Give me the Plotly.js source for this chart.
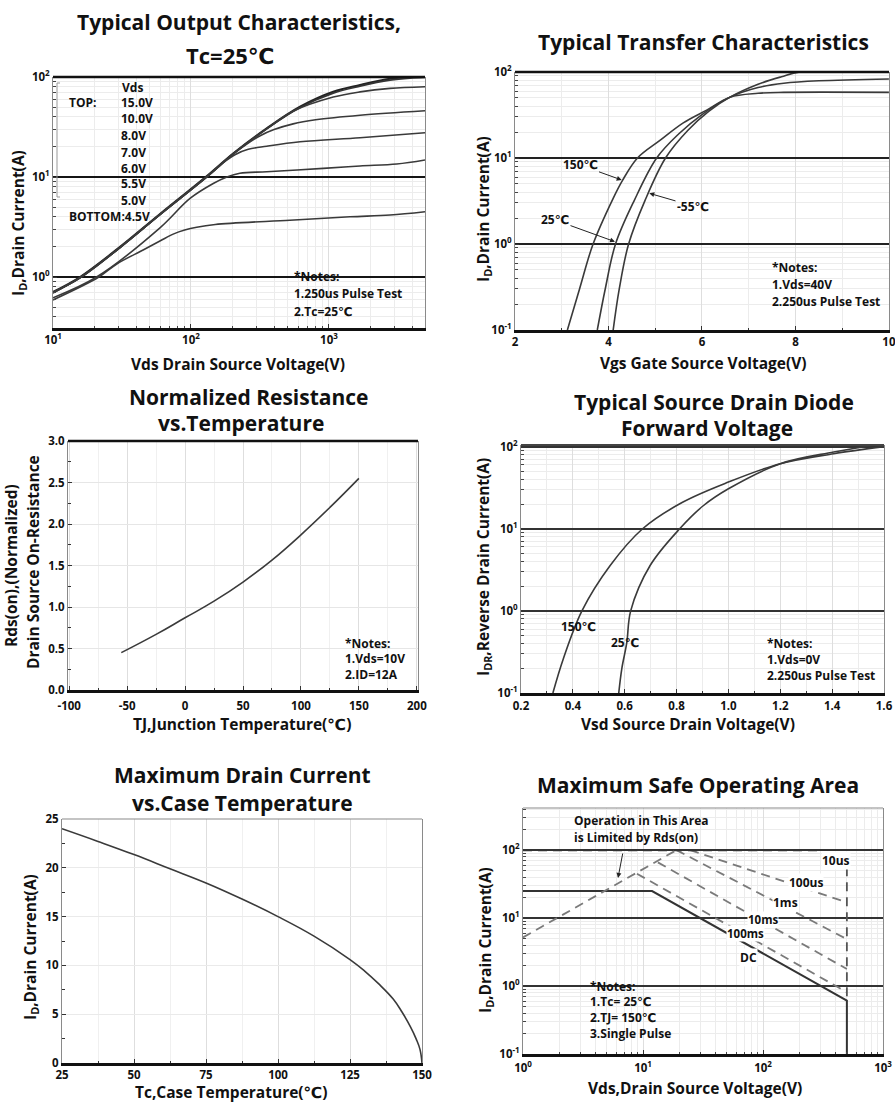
<!DOCTYPE html>
<html><head><meta charset="utf-8">
<script src="https://cdn.plot.ly/plotly-3.0.1.min.js"></script>
<style>html,body{margin:0;padding:0;background:#fff}#chart{width:895px;height:1102px}</style>
</head><body><div id="chart"></div>
<script>
// ===== DATA =====
// 1) Typical Output Characteristics (Vds [V], Id [A]) per gate voltage
const vds15 = [10, 15.7, 30.6, 59.6, 129, 203, 354, 617, 1074, 1679, 2767, 3864, 4966];
const id15  = [0.71, 1.0, 2.0, 4.27, 10.1, 17.3, 30.7, 50.5, 71.3, 83.2, 96, 100, 100];
const vds10 = [10, 15.7, 30.6, 59.6, 129, 203, 354, 617, 1074, 1679, 2767, 3864, 4966];
const id10  = [0.69, 0.99, 1.98, 4.22, 10.0, 17.1, 30.3, 49.5, 69, 81, 93, 97.5, 99];
const vds8  = [10, 15.7, 30.6, 59.6, 129, 203, 354, 550, 1074, 1679, 2767, 4966];
const id8   = [0.70, 0.98, 1.97, 4.2, 9.9, 17.0, 30.3, 45.5, 63, 71, 77, 80];
const vds7  = [10, 15.7, 30.6, 59.6, 129, 203, 260, 320, 400, 550, 800, 1679, 4966];
const id7   = [0.70, 0.98, 1.97, 4.2, 9.9, 17.0, 21.8, 26, 29.8, 34, 37.3, 41.5, 46];
const vds6  = [10, 15.7, 30.6, 59.6, 129, 170, 210, 260, 354, 617, 1679, 4966];
const id6   = [0.70, 0.98, 1.97, 4.2, 9.9, 13.8, 16.8, 18.9, 20.3, 22.5, 24.7, 27.7];
const vds55 = [10, 20.7, 59.6, 98.4, 145, 182, 226, 354, 909, 1679, 3100, 4966];
const id55  = [0.62, 1.0, 3.1, 6.1, 8.6, 10, 10.9, 11.3, 12.2, 12.9, 13.5, 14.8];
const vds45 = [10, 21.5, 29, 45, 60, 75, 90, 110, 150, 521, 1420, 2767, 4966];
const id45  = [0.59, 1.0, 1.35, 1.86, 2.3, 2.7, 2.95, 3.15, 3.35, 3.7, 4.0, 4.17, 4.5];

// 2) Typical Transfer Characteristics (Vgs [V], Id [A])
const vgs150 = [3.12, 3.38, 3.67, 4.1, 4.3, 4.62, 5.1, 5.6, 6.1, 6.6, 7.2, 7.75, 10];
const idT150 = [0.1, 0.3, 1.0, 3.4, 5.5, 10, 16, 25.6, 36, 51, 56.5, 58, 58];
const vgs25  = [3.76, 3.93, 4.15, 4.55, 5.03, 5.5, 6.0, 6.6, 7.2, 7.75, 8.5, 10];
const idT25  = [0.1, 0.3, 1.0, 3.2, 10, 19, 32, 51, 66, 74, 79, 83];
const vgsM55 = [4.1, 4.23, 4.43, 4.78, 5.22, 5.7, 6.15, 6.6, 7.2, 7.7, 8.1, 10];
const idTM55 = [0.1, 0.3, 1.0, 3.2, 10, 21, 35, 51, 72, 88, 100, 100];

// 3) Normalized Rds(on) vs junction temperature
const tj   = [-55, -25, 0, 25, 50, 75, 100, 125, 150];
const rdsN = [0.45, 0.67, 0.87, 1.07, 1.30, 1.565, 1.87, 2.20, 2.55];

// 4) Source-drain diode forward voltage (Vsd [V], Idr [A])
const vsd150 = [0.323, 0.363, 0.435, 0.544, 0.669, 0.823, 1.0, 1.2, 1.406, 1.6];
const idr150 = [0.1, 0.26, 1.0, 3.57, 10, 21, 37, 62, 82, 100];
const vsd25  = [0.577, 0.589, 0.608, 0.623, 0.698, 0.812, 0.904, 1.0, 1.2, 1.406, 1.6];
const idr25  = [0.1, 0.2, 0.41, 1.0, 3.57, 10, 19.2, 30.7, 62, 86, 109];

// 5) Max drain current vs case temperature
const tc   = [25, 37.5, 50, 62.5, 75, 87.5, 100, 112.5, 125, 130, 135, 140, 143, 146, 148, 149.3, 150];
const idTc = [24.0, 22.7, 21.35, 19.9, 18.45, 16.8, 15.0, 13.0, 10.6, 9.45, 8.1, 6.55, 5.25, 3.7, 2.45, 1.4, 0];

// 6) Safe operating area (Vds [V], Id [A])
const soaDcV   = [1, 11.9, 500, 500];      const soaDcI   = [25, 25, 0.61, 0.1];
const soa100msV= [8.9, 500];               const soa100msI= [45, 0.81];
const soa10msV = [13.3, 500];              const soa10msI = [66, 1.78];
const soa1msV  = [19, 500];                const soa1msI  = [100, 4.9];
const soa100usV= [24.7, 500];              const soa100usI= [100, 17];
const soa10usV = [1, 282, 500];            const soa10usI = [100, 100, 56];
const soaEdgeV = [500, 500];               const soaEdgeI = [56, 0.61];
const soaRdsV  = [1, 19];                  const soaRdsI  = [5.2, 100];

// tick labels
const logTick = (e) => '10<sup>' + e + '</sup>';

// ===== LAYOUT HELPERS =====
const W = 895, H = 1102;
const PX = x => x / W, PY = y => 1 - y / H;
const FAM = '"Open Sans", "DejaVu Sans", sans-serif';
const INK = '#111';
const LINE = '#3a3a3a';
const TF = {family: FAM, size: 11.5, color: INK, weight: 'bold'};

function minorLog(lo, hi) {
  const v = [];
  for (let e = Math.floor(Math.log10(lo)) ; e <= Math.ceil(Math.log10(hi)); e++)
    for (let m = 2; m <= 9; m++) { const t = m * Math.pow(10, e); if (t >= lo && t <= hi) v.push(t); }
  return v;
}

function xAx(px0, px1, anchor, extra) {
  return Object.assign({
    domain: [PX(px0), PX(px1)], anchor: anchor,
    showline: true, linecolor: INK, linewidth: 2.5, mirror: false,
    ticks: 'inside', ticklen: 4, tickcolor: '#333', tickfont: TF, ticklabeloverflow: 'allow',
    showgrid: true, gridcolor: '#dedede', gridwidth: 1, zeroline: false, fixedrange: true
  }, extra);
}
function yAx(py0, py1, anchor, extra) {
  return Object.assign({
    domain: [PY(py1), PY(py0)], anchor: anchor,
    showline: true, linecolor: '#8a8a8a', linewidth: 1, mirror: true,
    ticks: 'inside', ticklen: 4, tickcolor: '#333', tickfont: TF, ticklabeloverflow: 'allow',
    showgrid: true, gridcolor: '#dedede', gridwidth: 1, zeroline: false, fixedrange: true
  }, extra);
}
const minorLogCfg = (lo, hi) => ({tickvals: minorLog(lo, hi), showgrid: true, gridcolor: '#ececec', gridwidth: 1, ticks: 'inside', ticklen: 2.5, tickcolor: '#444'});

// ===== TRACES =====
function ln(x, y, ax, opt) {
  return Object.assign({x: x, y: y, type: 'scatter', mode: 'lines', xaxis: 'x' + ax, yaxis: 'y' + ax,
    hoverinfo: 'skip', showlegend: false,
    line: {color: LINE, width: 1.6, shape: 'spline', smoothing: 1.0}}, opt || {});
}
const dashed = (c, w) => ({line: {color: c, width: w, dash: '9px,6px', shape: 'linear'}});
const traces = [
  ln(vds15, id15, '', {line: {color: '#222', width: 2, shape: 'spline', smoothing: 1.0}}),
  ln(vds10, id10, '', {line: {color: '#333', width: 1.6, shape: 'spline', smoothing: 1.0}}),
  ln(vds8, id8, ''), ln(vds7, id7, ''), ln(vds6, id6, ''), ln(vds55, id55, ''), ln(vds45, id45, ''),
  ln(vgs150, idT150, '2'), ln(vgs25, idT25, '2'), ln(vgsM55, idTM55, '2'),
  ln(tj, rdsN, '3', {line: {color: LINE, width: 1.6, shape: 'spline', smoothing: 1.3}}),
  ln(vsd150, idr150, '4'), ln(vsd25, idr25, '4'),
  ln(tc, idTc, '5', {line: {color: LINE, width: 1.6, shape: 'spline', smoothing: 1.2}}),
  ln(soaDcV, soaDcI, '6', {line: {color: '#333', width: 2, shape: 'linear'}}),
  ln(soa100msV, soa100msI, '6', dashed('#7a7a7a', 1.8)),
  ln(soa10msV, soa10msI, '6', dashed('#7a7a7a', 1.8)),
  ln(soa1msV, soa1msI, '6', dashed('#7a7a7a', 1.8)),
  ln(soa100usV, soa100usI, '6', dashed('#7a7a7a', 1.8)),
  ln(soa10usV, soa10usI, '6', dashed('#333', 2.2)),
  ln(soaEdgeV, soaEdgeI, '6', dashed('#555', 1.8)),
  ln(soaRdsV, soaRdsI, '6', dashed('#7a7a7a', 1.8))
];

// ===== ANNOTATIONS =====
const anns = [];
function T(text, px, py, size, opt) {
  anns.push(Object.assign({text: text, x: PX(px), y: PY(py), xref: 'paper', yref: 'paper', showarrow: false,
    xanchor: 'center', yanchor: 'middle', font: {family: FAM, size: size, color: INK, weight: 'bold'}}, opt || {}));
}
function L(text, px, py, size, opt) { T(text, px, py, size, Object.assign({xanchor: 'left'}, opt || {})); }
function A(text, hx, hy, tx, ty) {
  anns.push({text: text, x: PX(hx), y: PY(hy), xref: 'paper', yref: 'paper', showarrow: true,
    ax: tx - hx, ay: ty - hy, arrowhead: 2, arrowsize: 1, arrowwidth: 1, arrowcolor: '#222', standoff: 0,
    font: {family: FAM, size: 12, color: INK, weight: 'bold'}});
}
// titles
const TS = 21;
T('Typical Output Characteristics,', 239, 22, TS);
T('Tc=25℃', 230, 55, TS + 1);
T('Typical Transfer Characteristics', 703, 42, TS);
T('Normalized Resistance', 249, 397, TS);
T('vs.Temperature', 241, 423, TS);
T('Typical Source Drain Diode', 714, 402, TS);
T('Forward Voltage', 707, 428, TS);
T('Maximum Drain Current', 242, 775, TS);
T('vs.Case Temperature', 242, 803, TS);
T('Maximum Safe Operating Area', 698, 785, TS);
// axis titles
const AS = 15.5;
T('Vds Drain Source Voltage(V)', 238, 364, AS);
T('Vgs Gate Source Voltage(V)', 703, 363, AS);
T('TJ,Junction Temperature(℃)', 242, 724, AS);
T('Vsd Source Drain Voltage(V)', 688, 724, AS);
T('Tc,Case Temperature(℃)', 231, 1092, AS);
T('Vds,Drain Source Voltage(V)', 695, 1088, AS);
T('I<sub>D</sub>,Drain Current(A)', 18, 223, AS, {textangle: -90});
T('I<sub>D</sub>,Drain Current(A)', 483, 209, AS, {textangle: -90});
T('Rds(on),(Normalized)', 11, 566, AS, {textangle: -90});
T('Drain Source On-Resistance', 33, 562, AS, {textangle: -90});
T('I<sub>DR</sub>,Reverse Drain Current(A)', 483, 567, AS, {textangle: -90});
T('I<sub>D</sub>,Drain Current(A)', 30, 947, AS, {textangle: -90});
T('I<sub>D</sub>,Drain Current(A)', 485, 940, AS, {textangle: -90});
// plot 1 legend text
const NS = 12;
L('Vds', 120, 87, NS);
L('TOP:', 67, 103, NS);
L('15.0V', 119, 103, NS); L('10.0V', 119, 119, NS); L('8.0V', 119, 135, NS); L('7.0V', 119, 152, NS);
L('6.0V', 119, 168, NS); L('5.5V', 119, 183, NS); L('5.0V', 119, 200, NS);
L('BOTTOM:4.5V', 67, 216, NS);
// notes
L('*Notes:', 292, 277, NS); L('1.250us Pulse Test', 292, 294, NS); L('2.Tc=25℃', 292, 312, NS);
L('*Notes:', 770, 268, NS); L('1.Vds=40V', 770, 285, NS); L('2.250us Pulse Test', 770, 301, NS);
L('*Notes:', 343, 643, NS); L('1.Vds=10V', 343, 658, NS); L('2.ID=12A', 343, 674, NS);
L('*Notes:', 765, 643, NS); L('1.Vds=0V', 765, 659, NS); L('2.250us Pulse Test', 765, 675, NS);
L('*Notes:', 588, 986, NS); L('1.Tc= 25℃', 588, 1001, NS); L('2.TJ= 150℃', 588, 1017, NS); L('3.Single Pulse', 588, 1033, NS);
L('Operation in This Area', 572, 820, NS); L('is Limited by Rds(on)', 572, 837, NS);
// curve labels
A('150℃', 621.7, 180, 580, 165);
A('25℃', 615, 241.7, 555, 220);
A('-55℃', 649.3, 193.3, 693, 206);
T('150℃', 578, 626, NS);
T('25℃', 625, 642, NS);
const WB = {bgcolor: 'white', borderpad: 0};
T('10us', 836, 860, NS, WB);
T('100us', 806, 882, NS, WB);
T('1ms', 785, 902, NS, WB);
T('100ms', 745, 933, 11.5, WB);
T('10ms', 763, 919, 11.5, WB);
T('DC', 748, 957, NS, WB);
anns.push({text: '', x: PX(618), y: PY(878), xref: 'paper', yref: 'paper', showarrow: true, ax: 5, ay: -26,
  arrowhead: 2, arrowsize: 1, arrowwidth: 1, arrowcolor: '#222'});

// ===== SHAPES =====
const shapes = [];
function topBorder(ax, color, w) {
  shapes.push({type: 'line', xref: 'x' + ax + ' domain', yref: 'y' + ax + ' domain', x0: 0, x1: 1, y0: 1, y1: 1,
    line: {color: color, width: w}});
}
topBorder('', INK, 2.5); topBorder('2', INK, 2.5); topBorder('3', INK, 2.5);
topBorder('4', '#444', 2); topBorder('5', '#8a8a8a', 1.2); topBorder('6', '#8a8a8a', 1.2);
function cover(x0, y0, x1, y1) {
  shapes.push({type: 'rect', xref: 'paper', yref: 'paper', x0: PX(x0), x1: PX(x1), y0: PY(y1), y1: PY(y0),
    fillcolor: 'white', line: {width: 0}, layer: 'between'});
}
cover(54, 78.5, 150, 222);
cover(287, 266, 398, 323);
cover(583, 975, 667, 1044);
// bracket beside plot-1 legend
shapes.push({type: 'line', xref: 'paper', yref: 'paper', x0: PX(57), x1: PX(57), y0: PY(83), y1: PY(197), line: {color: '#999', width: 1}});
shapes.push({type: 'line', xref: 'paper', yref: 'paper', x0: PX(57), x1: PX(60), y0: PY(83), y1: PY(83), line: {color: '#999', width: 1}});
shapes.push({type: 'line', xref: 'paper', yref: 'paper', x0: PX(57), x1: PX(60), y0: PY(197), y1: PY(197), line: {color: '#999', width: 1}});

// ===== LAYOUT =====
const layout = {
  width: W, height: H, margin: {l: 0, r: 0, t: 0, b: 0}, paper_bgcolor: '#fff', plot_bgcolor: '#fff',
  showlegend: false, font: {family: FAM, color: INK},
  // 1 output
  xaxis: xAx(53, 425, 'y', {type: 'log', range: [1, 3.696], tickmode: 'array', tickvals: [10, 100, 1000],
    ticktext: [logTick(1), logTick(2), logTick(3)], minor: minorLogCfg(10, 5000)}),
  yaxis: yAx(77, 328, 'x', {type: 'log', range: [-0.51, 2], tickmode: 'array', tickvals: [1, 10, 100],
    ticktext: [logTick(0), logTick(1), logTick(2)], gridcolor: '#151515', gridwidth: 2.4, minor: minorLogCfg(0.3, 100)}),
  // 2 transfer
  xaxis2: xAx(515, 889, 'y2', {range: [1.999, 10.002], tickmode: 'array', tickvals: [2, 4, 6, 8, 10], ticktext: ['2', '4', '6', '8', '10'],
    minor: {dtick: 1, showgrid: true, gridcolor: '#ececec', ticks: 'inside', ticklen: 2.5}}),
  yaxis2: yAx(72, 330, 'x2', {type: 'log', range: [-1, 2], tickmode: 'array', tickvals: [0.1, 1, 10, 100],
    ticktext: [logTick(-1), logTick(0), logTick(1), logTick(2)], gridcolor: '#222', gridwidth: 2, minor: minorLogCfg(0.1, 100)}),
  // 3 normalized resistance
  xaxis3: xAx(68, 418, 'y3', {range: [-101, 201], tickmode: 'array', tickvals: [-100, -50, 0, 50, 100, 150, 200],
    ticktext: ['-100', '-50', '0', '50', '100', '150', '200'], ticklabelstandoff: 4,
    minor: {dtick: 25, showgrid: true, gridcolor: '#f0f0f0', ticks: 'inside', ticklen: 2.5}}),
  yaxis3: yAx(441, 690, 'x3', {range: [0, 3.0], tickmode: 'array', tickvals: [0, 0.5, 1, 1.5, 2, 2.5, 3],
    ticktext: ['0.0', '0.5', '1.0', '1.5', '2.0', '2.5', '3.0'], gridcolor: '#e6e6e6',
    minor: {dtick: 0.25, showgrid: false, ticks: 'inside', ticklen: 2.5}}),
  // 4 diode
  xaxis4: xAx(521, 884, 'y4', {range: [0.2, 1.6], tickmode: 'array', tickvals: [0.2, 0.4, 0.6, 0.8, 1.0, 1.2, 1.4, 1.6],
    ticktext: ['0.2', '0.4', '0.6', '0.8', '1.0', '1.2', '1.4', '1.6'], ticklabelstandoff: 1,
    minor: {dtick: 0.1, showgrid: true, gridcolor: '#ececec', ticks: 'inside', ticklen: 2.5}}),
  yaxis4: yAx(445, 693, 'x4', {type: 'log', range: [-1, 2.02], tickmode: 'array', tickvals: [0.1, 1, 10, 100],
    ticktext: [logTick(-1), logTick(0), logTick(1), logTick(2)], gridcolor: '#333', gridwidth: 2, minor: minorLogCfg(0.1, 105)}),
  // 5 max drain current
  xaxis5: xAx(62, 422, 'y5', {range: [25, 150], tickmode: 'array', tickvals: [25, 50, 75, 100, 125, 150],
    ticktext: ['25', '50', '75', '100', '125', '150'],
    minor: {dtick: 12.5, showgrid: true, gridcolor: '#f0f0f0', ticks: 'inside', ticklen: 2.5}}),
  yaxis5: yAx(819, 1063, 'x5', {range: [0, 25], tickmode: 'array', tickvals: [0, 5, 10, 15, 20, 25],
    ticktext: ['0', '5', '10', '15', '20', '25'], gridcolor: '#eaeaea',
    minor: {dtick: 2.5, showgrid: false, ticks: 'inside', ticklen: 2.5}}),
  // 6 SOA
  xaxis6: xAx(523, 883, 'y6', {type: 'log', range: [0, 3], tickmode: 'array', tickvals: [1, 10, 100, 1000],
    ticktext: [logTick(0), logTick(1), logTick(2), logTick(3)], ticklabelstandoff: 2, minor: minorLogCfg(1, 1000)}),
  yaxis6: yAx(808, 1054, 'x6', {type: 'log', range: [-1, 2.62], tickmode: 'array', tickvals: [0.1, 1, 10, 100],
    ticktext: [logTick(-1), logTick(0), logTick(1), logTick(2)], gridcolor: '#333', gridwidth: 2, minor: minorLogCfg(0.1, 400)}),
  annotations: anns,
  shapes: shapes
};

Plotly.newPlot('chart', traces, layout, {staticPlot: true, displayModeBar: false});
</script>
</body></html>
